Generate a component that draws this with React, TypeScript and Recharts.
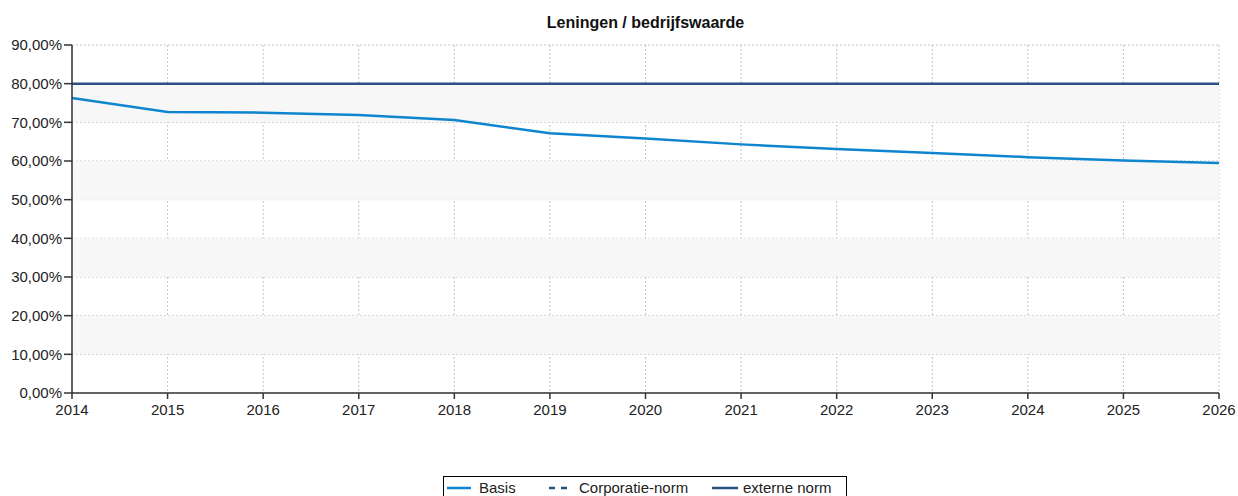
import { LineChart, Line, XAxis, YAxis, CartesianGrid, ReferenceArea } from 'recharts';

// Values
const years = [2014, 2015, 2016, 2017, 2018, 2019, 2020, 2021, 2022, 2023, 2024, 2025, 2026];
const basis = [76.3, 72.7, 72.5, 71.9, 70.6, 67.2, 65.8, 64.3, 63.1, 62.1, 61.0, 60.1, 59.5];
const corporatieNorm = [80, 80, 80, 80, 80, 80, 80, 80, 80, 80, 80, 80, 80];
const externeNorm = [80, 80, 80, 80, 80, 80, 80, 80, 80, 80, 80, 80, 80];
const yTicks = [0, 10, 20, 30, 40, 50, 60, 70, 80, 90];
const bands = [[10, 20], [30, 40], [50, 60], [70, 80]];

const BLUE = '#0f85d0';
const NAVY = '#2e4f82';
const FONT = '"Liberation Sans", Arial, sans-serif';

const data = years.map((year, i) => ({
  year,
  basis: basis[i],
  corporatie: corporatieNorm[i],
  externe: externeNorm[i],
}));

const formatPct = (v: number) => `${v.toFixed(2).replace('.', ',')}%`;

const LegendBox = () => (
  <div
    style={{
      position: 'absolute',
      left: 443,
      top: 476,
      width: 404,
      height: 26,
      border: '1px solid #000',
      boxSizing: 'border-box',
      background: '#fff',
    }}
  >
    <svg width={404} height={24} style={{ position: 'absolute', left: 0, top: 0 }}>
      <line x1={3} x2={27} y1={11} y2={11} stroke={BLUE} strokeWidth={2.5} />
      <line x1={105} x2={126} y1={11} y2={11} stroke={NAVY} strokeWidth={2.5} strokeDasharray="6 6" />
      <line x1={268} x2={294} y1={11} y2={11} stroke={NAVY} strokeWidth={2.5} />
      <text x={35} y={16} fontFamily={FONT} fontSize={15} fill="#222">Basis</text>
      <text x={135} y={16} fontFamily={FONT} fontSize={15} fill="#222">Corporatie-norm</text>
      <text x={299} y={16} fontFamily={FONT} fontSize={15} fill="#222">externe norm</text>
    </svg>
  </div>
);

const App = () => {
  return (
    <div style={{ position: 'absolute', left: 0, top: 0, width: 1238, height: 496, background: '#fff', overflow: 'hidden' }}>
      <div
        style={{
          position: 'absolute',
          left: 0,
          width: 1291,
          top: 14,
          textAlign: 'center',
          fontFamily: FONT,
          fontWeight: 'bold',
          fontSize: 16,
          color: '#111',
        }}
      >
        Leningen / bedrijfswaarde
      </div>
      <LineChart
        width={1238}
        height={496}
        data={data}
        margin={{ top: 45, right: 19, bottom: 73, left: 0 }}
      >
        {bands.map(([a, b]) => (
          <ReferenceArea key={a} y1={a} y2={b} fill="#f7f7f7" fillOpacity={1} stroke="none" ifOverflow="visible" />
        ))}
        <CartesianGrid stroke="#c4c4c4" strokeDasharray="2 2" />
        <XAxis
          dataKey="year"
          type="number"
          domain={[2014, 2026]}
          ticks={years}
          interval={0}
          height={30}
          tick={{ fontFamily: FONT, fontSize: 15, fill: '#222' }}
          tickSize={6}
          tickMargin={5}
          axisLine={{ stroke: '#333', strokeWidth: 1.5 }}
          tickLine={{ stroke: '#333', strokeWidth: 1.5 }}
        />
        <YAxis
          type="number"
          domain={[0, 90]}
          ticks={yTicks}
          interval={0}
          width={72}
          tickFormatter={formatPct}
          tick={{ fontFamily: FONT, fontSize: 15, fill: '#222' }}
          tickSize={8}
          tickMargin={2}
          axisLine={{ stroke: '#333', strokeWidth: 1.5 }}
          tickLine={{ stroke: '#333', strokeWidth: 1.5 }}
        />
        <Line
          dataKey="corporatie"
          stroke={NAVY}
          strokeWidth={1.5}
          strokeDasharray="6 6"
          dot={false}
          activeDot={false}
          isAnimationActive={false}
        />
        <Line
          dataKey="externe"
          stroke={NAVY}
          strokeWidth={2.5}
          dot={false}
          activeDot={false}
          isAnimationActive={false}
        />
        <Line
          type="linear"
          dataKey="basis"
          stroke={BLUE}
          strokeWidth={2.5}
          dot={false}
          activeDot={false}
          isAnimationActive={false}
        />
      </LineChart>
      <LegendBox />
    </div>
  );
};

export default App;
